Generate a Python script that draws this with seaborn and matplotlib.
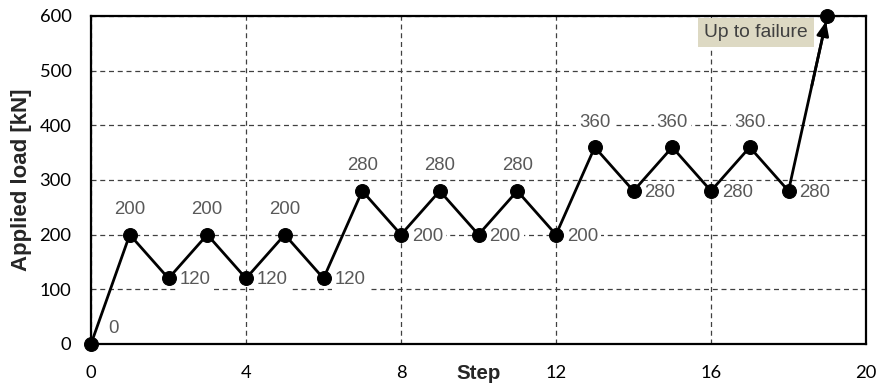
import matplotlib
matplotlib.use("Agg")
import matplotlib.pyplot as plt
import seaborn as sns
import pandas as pd

# Loading protocol: applied load at each step
steps = list(range(20))
loads = [0, 200, 120, 200, 120, 200, 120, 280, 200, 280, 200, 280, 200,
         360, 280, 360, 280, 360, 280, 600]
x_ticks = [0, 4, 8, 12, 16, 20]
y_ticks = [0, 100, 200, 300, 400, 500, 600]
failure_note = "Up to failure"

df = pd.DataFrame({"Step": steps, "Load": loads})

sns.set_theme(style="white")
plt.rcParams["font.family"] = ["Liberation Sans", "DejaVu Sans"]

fig, ax = plt.subplots(figsize=(8.78, 3.88), dpi=100)
fig.subplots_adjust(left=91 / 878, right=866 / 878, bottom=1 - 344 / 388, top=1 - 16 / 388)

sns.lineplot(data=df, x="Step", y="Load", ax=ax, color="black", linewidth=2.0,
             marker="o", markersize=10, markeredgecolor="black",
             markerfacecolor="black", clip_on=False, zorder=4)

ax.set_xlim(0, 20)
ax.set_ylim(0, 600)
ax.set_xticks(x_ticks)
ax.set_yticks(y_ticks)
ax.tick_params(axis="both", length=0, labelsize=13.2, colors="black")
ax.tick_params(axis="x", pad=15)
ax.tick_params(axis="y", pad=14)
for lab in ax.get_xticklabels() + ax.get_yticklabels():
    lab.set_family(["Lato", "DejaVu Sans"])

ax.grid(True, linestyle=(0, (4, 3)), color="#404040", linewidth=0.9)
ax.set_axisbelow(True)
for sp in ax.spines.values():
    sp.set_visible(True)
    sp.set_color("black")
    sp.set_linewidth(1.6)

ax.set_xlabel("Step", fontsize=14.8, fontweight="bold")
ax.xaxis.set_label_coords(0.5, -0.062)
ax.set_ylabel("Applied load [kN]", fontsize=16, fontweight="bold")
ax.yaxis.set_label_coords(-0.076, 0.5)

# Value labels: peaks above, troughs to the right
label_box = dict(boxstyle="square,pad=0.15", facecolor="white", edgecolor="none")
for i, (s, v) in enumerate(zip(steps, loads)):
    if i == 0:
        ax.annotate(str(v), (s, v), xytext=(16, 11), textcoords="offset points",
                    ha="center", va="center", fontsize=13.4, color="#595959")
        continue
    if i == len(loads) - 1:
        continue
    is_peak = v > loads[i - 1]
    if is_peak:
        ax.annotate(str(v), (s, v), xytext=(0, 18), textcoords="offset points",
                    ha="center", va="center", fontsize=13.4, color="#595959",
                    bbox=label_box, zorder=3)
    else:
        ax.annotate(str(v), (s, v), xytext=(8, -1), textcoords="offset points",
                    ha="left", va="center", fontsize=13.4, color="#595959",
                    bbox=label_box, zorder=3)

# Final ramp to failure
ax.annotate("", xy=(steps[-1], loads[-1]), xytext=(18.6, 472),
            arrowprops=dict(arrowstyle="-|>,head_length=0.7,head_width=0.3",
                            color="black", lw=2.0, shrinkA=0, shrinkB=4),
            zorder=5, annotation_clip=False)
ax.text(17.16, 570, failure_note, ha="center", va="center", fontsize=13.9,
        color="#404040", zorder=6,
        bbox=dict(boxstyle="square,pad=0.3", facecolor="#DDD9C3", edgecolor="none"))

fig.savefig("out.png", dpi=100)
